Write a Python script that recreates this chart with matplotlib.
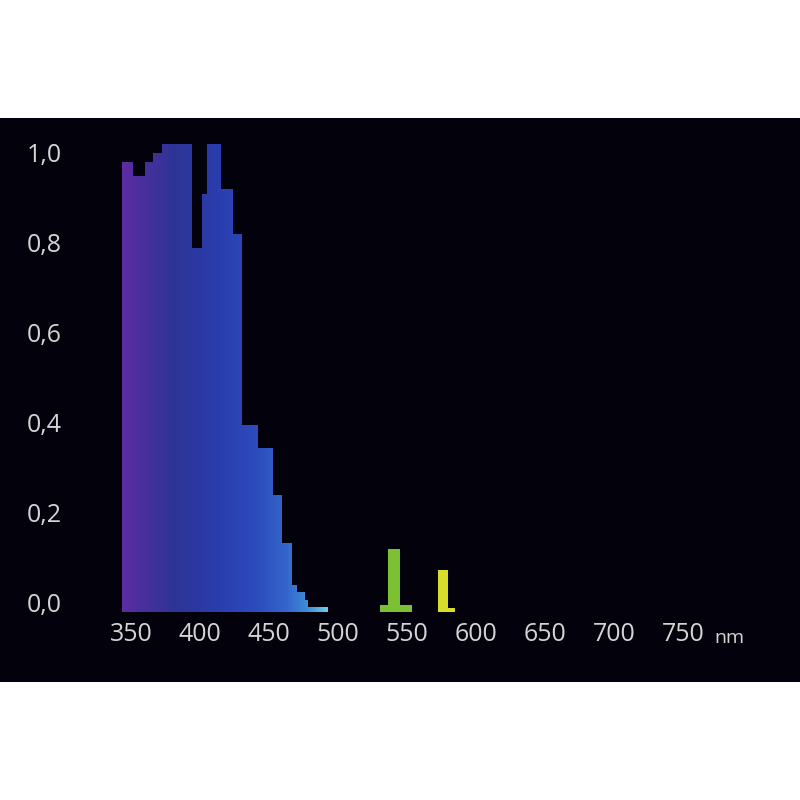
import numpy as np
import matplotlib
matplotlib.use("Agg")
import matplotlib.pyplot as plt
from matplotlib.colors import LinearSegmentedColormap
from matplotlib.patches import Rectangle
from matplotlib.transforms import ScaledTranslation, blended_transform_factory

# relative spectral power (step edges in nm)
uv_edges = [343.5, 351.4, 360.1, 365.9, 372.5, 394.2, 401.4, 405.1, 415.2, 423.9,
            430.4, 442.0, 452.9, 459.4, 466.7, 470.3, 476.1, 478.3, 492.8]
uv_heights = [1.00, 0.97, 1.00, 1.02, 1.04, 0.81, 0.93, 1.04, 0.94, 0.84,
              0.415, 0.365, 0.26, 0.153, 0.06, 0.044, 0.027, 0.011]

# mercury lines: stem and foot
line_left = [536.2, 572.5]
line_right = [544.9, 579.7]
line_height = [0.14, 0.093]
foot_left = [530.4, 572.5]
foot_right = [553.6, 584.8]
foot_height = [0.015, 0.01]
line_colors = ["#7cc034", "#d8dc2a"]

x_ticks = [350, 400, 450, 500, 550, 600, 650, 700, 750]
y_ticks = [0.0, 0.2, 0.4, 0.6, 0.8, 1.0]
y_labels = ["0,0", "0,2", "0,4", "0,6", "0,8", "1,0"]

text_col = "#d4d4d4"
plt.rcParams["font.family"] = ["Open Sans", "DejaVu Sans"]

fig = plt.figure(figsize=(8, 8), dpi=100, facecolor="white")
# black panel behind the chart
fig.patches.append(Rectangle((0, 118 / 800), 1, 564 / 800, transform=fig.transFigure,
                             facecolor="#03020c", edgecolor="none", zorder=-1))

ax = fig.add_axes([117.2 / 800, (800 - 612) / 800, 579.6 / 800, 477 / 800])
ax.set_facecolor("none")
ax.set_xlim(340, 760)
ax.set_ylim(0, 1.06)
for s in ax.spines.values():
    s.set_visible(False)

# gradient-filled step shape for the UV/blue part
cmap = LinearSegmentedColormap.from_list("uv", [
    (0.0, "#5e2ca4"), (0.12, "#45309c"), (0.25, "#2e3496"), (0.45, "#2a3cac"),
    (0.65, "#2c4bbd"), (0.8, "#3566cc"), (0.9, "#3f8ed8"), (1.0, "#72cfea")])
grad = np.linspace(0, 1, 256).reshape(1, -1)
im = ax.imshow(grad, cmap=cmap, aspect="auto", interpolation="bilinear",
               extent=[uv_edges[0], uv_edges[-1], 0, 1.06], zorder=2)
shape = ax.fill_between(uv_edges, uv_heights + [uv_heights[-1]], step="post",
                        facecolor="none", edgecolor="none")
im.set_clip_path(shape.get_paths()[0], transform=ax.transData)

for i in range(len(line_left)):
    ax.bar(foot_left[i], foot_height[i], width=foot_right[i] - foot_left[i],
           align="edge", color=line_colors[i], zorder=3)
    ax.bar(line_left[i], line_height[i], width=line_right[i] - line_left[i],
           align="edge", color=line_colors[i], zorder=3)

ax.set_xticks(x_ticks)
ax.set_xticklabels([str(t) for t in x_ticks])
ax.set_yticks(y_ticks)
ax.set_yticklabels(y_labels, va="baseline")
ax.tick_params(length=0, colors=text_col, labelsize=18)
ax.tick_params(axis="x", pad=7)
ax.tick_params(axis="y", pad=40)

tr = blended_transform_factory(ax.transData, ax.transAxes) + \
    ScaledTranslation(0, -0.31, fig.dpi_scale_trans)
ax.text(784, 0, "nm", transform=tr, color=text_col, fontsize=14,
        ha="center", va="baseline")

fig.savefig("out.png", dpi=100, facecolor="white")
